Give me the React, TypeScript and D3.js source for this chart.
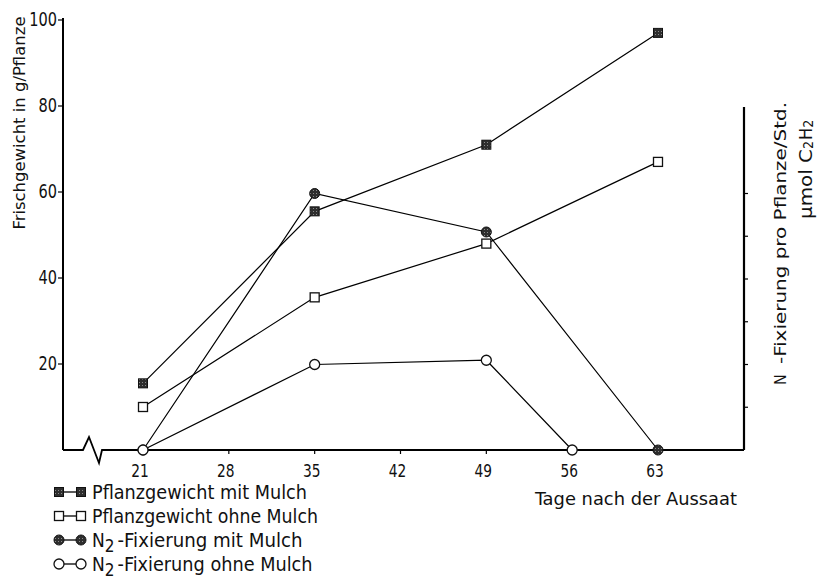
import React from "react";
import * as d3 from "d3";

const days = [21, 35, 49, 63];
const gewichtMitMulch = [15.5, 55.5, 71, 97];
const gewichtOhneMulch = [10, 35.5, 48, 67];
const n2MitDays = [21, 35, 49, 63];
const n2MitMulch = [0, 6, 5.1, 0];
const n2OhneDays = [21, 35, 49, 56];
const n2OhneMulch = [0, 2, 2.1, 0];
const xTicks = [21, 28, 35, 42, 49, 56, 63];
const yTicks = [20, 40, 60, 80, 100];
const rightTicks = [1, 2, 3, 4, 5, 6];
const legendLabels = [
  "Pflanzgewicht mit Mulch",
  "Pflanzgewicht ohne Mulch",
  "Fixierung mit Mulch",
  "Fixierung ohne Mulch",
];

const FONT = "'DejaVu Sans Condensed','Liberation Sans Narrow','DejaVu Sans',sans-serif";

export default function App() {
  const x = d3.scaleLinear().domain([21, 63]).range([143, 658]);
  const yL = d3.scaleLinear().domain([0, 100]).range([450, 20]);
  const yR = d3.scaleLinear().domain([0, 8]).range([450, 108]);
  const leftX = 63;
  const rightX = 744;
  const baseY = yL(0);

  const line = d3.line<[number, number]>().x((d) => d[0]).y((d) => d[1]);

  const sGM = days.map((d, i) => [x(d), yL(gewichtMitMulch[i])] as [number, number]);
  const sGO = days.map((d, i) => [x(d), yL(gewichtOhneMulch[i])] as [number, number]);
  const sNM = n2MitDays.map((d, i) => [x(d), yR(n2MitMulch[i])] as [number, number]);
  const sNO = n2OhneDays.map((d, i) => [x(d), yR(n2OhneMulch[i])] as [number, number]);

  const axisPath =
    `M${leftX},${baseY} L83,${baseY} L89,${baseY - 13} L99,${baseY + 13} L102,${baseY} L${rightX},${baseY}`;

  const filledSq = (p: [number, number], k: string) => (
    <rect key={k} x={p[0] - 4.5} y={p[1] - 4.5} width={9} height={9} fill="url(#speck)" stroke="#111" strokeWidth={1} />
  );
  const openSq = (p: [number, number], k: string) => (
    <rect key={k} x={p[0] - 4.5} y={p[1] - 4.5} width={9} height={9} fill="#fff" stroke="#111" strokeWidth={1.3} />
  );
  const filledCi = (p: [number, number], k: string) => (
    <circle key={k} cx={p[0]} cy={p[1]} r={5} fill="url(#speck)" stroke="#111" strokeWidth={1} />
  );
  const openCi = (p: [number, number], k: string) => (
    <circle key={k} cx={p[0]} cy={p[1]} r={5} fill="#fff" stroke="#111" strokeWidth={1.3} />
  );
  const markers = [filledSq, openSq, filledCi, openCi];

  const legendBase = [499, 523, 547, 571];
  const legendLen = [215, 226, 215, 225];

  return (
    <svg width={821} height={586} style={{ position: "absolute", left: 0, top: 0, background: "#fff" }} fontFamily={FONT} fill="#111">
      <defs>
        <pattern id="speck" width="3" height="3" patternUnits="userSpaceOnUse">
          <rect width="3" height="3" fill="#2e2e2e" />
          <rect x="1" y="1" width="1" height="1" fill="#8a8a8a" />
        </pattern>
      </defs>
      {/* left axis */}
      <line x1={leftX} y1={18} x2={leftX} y2={baseY} stroke="#000" strokeWidth={2} />
      {yTicks.map((t) => (
        <g key={t}>
          <line x1={leftX - 5} x2={leftX} y1={yL(t)} y2={yL(t)} stroke="#000" strokeWidth={1.2} />
          <text transform={`translate(${leftX - 6},${yL(t)}) scale(0.85,1)`} textAnchor="end" dominantBaseline="central" fontSize={19}>{t}</text>
        </g>
      ))}
      <text transform={`translate(19,${123}) rotate(-90)`} textAnchor="middle" dominantBaseline="central" fontSize={16} textLength={213} lengthAdjust="spacingAndGlyphs">
        Frischgewicht in g/Pflanze
      </text>
      {/* bottom axis */}
      <path d={axisPath} fill="none" stroke="#000" strokeWidth={1.8} />
      {xTicks.map((t) => (
        <g key={t}>
          <line x1={x(t)} x2={x(t)} y1={baseY} y2={baseY + 4} stroke="#000" strokeWidth={1.2} />
          <text transform={`translate(${x(t) - 3},477) scale(0.85,1)`} textAnchor="middle" fontSize={18}>{t}</text>
        </g>
      ))}
      <text x={535} y={505} fontSize={18} textLength={202} lengthAdjust="spacingAndGlyphs">Tage nach der Aussaat</text>
      {/* right axis */}
      <line x1={rightX} y1={107} x2={rightX} y2={baseY} stroke="#000" strokeWidth={2.2} />
      {rightTicks.map((t) => (
        <line key={t} x1={rightX} x2={rightX + 4} y1={yR(t)} y2={yR(t)} stroke="#000" strokeWidth={1.2} />
      ))}
      <text transform={`translate(780,385) rotate(-90)`} dominantBaseline="central" fontSize={16}>N</text>
      <text transform={`translate(780,364) rotate(-90)`} dominantBaseline="central" fontSize={16} textLength={262} lengthAdjust="spacingAndGlyphs">-Fixierung pro Pflanze/Std.</text>
      <text transform={`translate(805,219) rotate(-90)`} dominantBaseline="central" fontSize={18}>
        <tspan textLength={70} lengthAdjust="spacingAndGlyphs">μmol C</tspan>
        <tspan dy={3} fontSize={14}>2</tspan>
        <tspan dy={-3} dx={1}>H</tspan>
        <tspan dy={3} fontSize={14}>2</tspan>
      </text>
      {/* series lines */}
      {[sGM, sGO, sNM, sNO].map((s, i) => (
        <path key={i} d={line(s) || ""} fill="none" stroke="#000" strokeWidth={1.2} />
      ))}
      {[sGM, sGO, sNM, sNO].map((s, i) => s.map((p, j) => markers[i](p, `${i}-${j}`)))}
      {/* legend */}
      {legendLabels.map((lab, i) => {
        const yb = legendBase[i];
        const my = yb - 7;
        return (
          <g key={lab}>
            <line x1={59} x2={81} y1={my} y2={my} stroke="#000" strokeWidth={1.3} />
            {markers[i]([59, my], "a")}
            {markers[i]([81, my], "b")}
            {i < 2 ? (
              <text x={92} y={yb} fontSize={19} textLength={legendLen[i]} lengthAdjust="spacingAndGlyphs">{lab}</text>
            ) : (
              <text x={92} y={yb} fontSize={19}>
                <tspan>N</tspan>
                <tspan dy={5} fontSize={17}>2</tspan>
                <tspan dy={-5} dx={3} textLength={legendLen[i] - 30} lengthAdjust="spacingAndGlyphs">-{lab}</tspan>
              </text>
            )}
          </g>
        );
      })}
    </svg>
  );
}
